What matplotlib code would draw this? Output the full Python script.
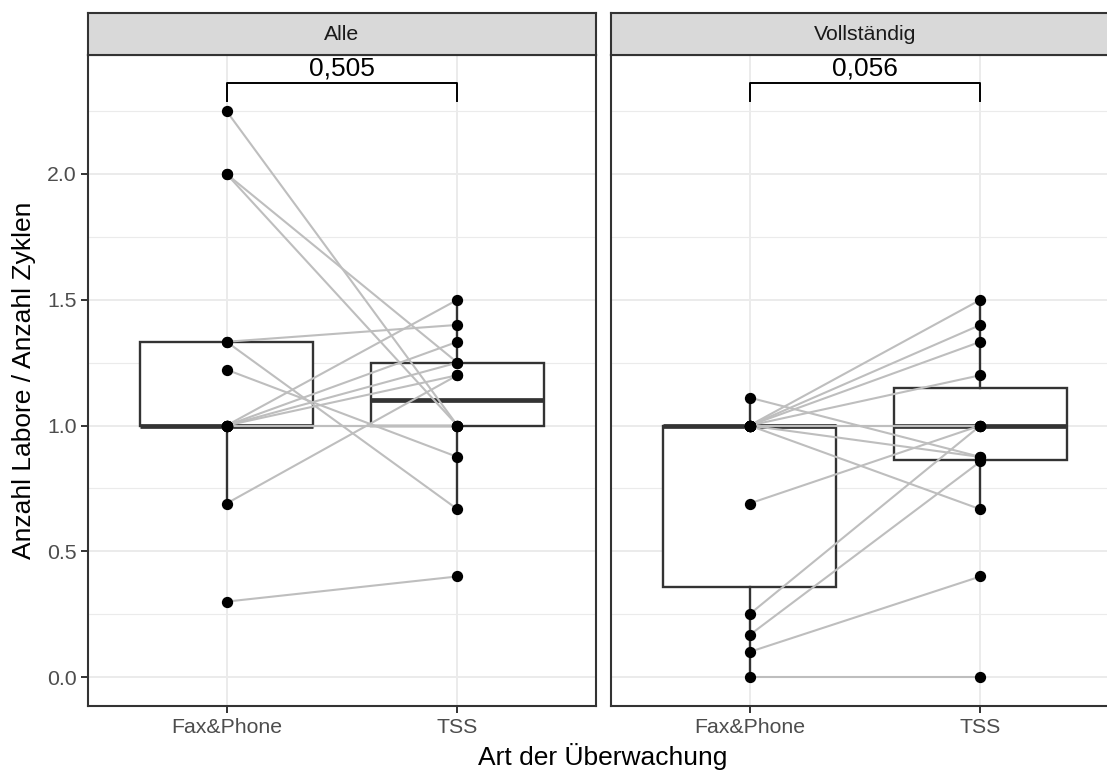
import numpy as np
import matplotlib.pyplot as plt
from matplotlib.ticker import MultipleLocator

plt.rcParams['font.family'] = ['Liberation Sans', 'DejaVu Sans']

# Gruppen und Facetten
groups = ["Fax&Phone", "TSS"]
panels = ["Alle", "Vollständig"]
p_labels = ["0,505", "0,056"]

# Gepaarte Werte (ein Eintrag pro Labor)
alle_fax = [2.25, 2.0, 2.0, 1.333, 1.333, 1.222, 1.0, 1.0, 1.0, 1.0, 1.0, 1.0, 0.69, 0.3]
alle_tss = [1.0, 1.25, 1.0, 1.4, 0.667, 0.875, 1.5, 1.333, 1.25, 1.2, 1.0, 1.0, 1.2, 0.4]
voll_fax = [1.111, 1.0, 1.0, 1.0, 1.0, 1.0, 1.0, 1.0, 1.0, 0.69, 0.25, 0.167, 0.1, 0.0]
voll_tss = [0.875, 1.5, 1.4, 1.333, 1.2, 1.0, 1.0, 0.875, 0.667, 1.0, 1.0, 0.857, 0.4, 0.0]

data = [(alle_fax, alle_tss), (voll_fax, voll_tss)]

W, H = 1107, 770
fig = plt.figure(figsize=(W / 100, H / 100), dpi=100)

def frac(x0, y0, x1, y1):
    return [x0 / W, 1 - y1 / H, (x1 - x0) / W, (y1 - y0) / H]

panel_x = [(88, 596), (611, 1119)]
top, bottom, strip_top = 55, 706, 13
dark = "#333333"

for i, (px, name, (fax, tss), plab) in enumerate(zip(panel_x, panels, data, p_labels)):
    ax = fig.add_axes(frac(px[0], top, px[1], bottom))

    # Boxplots
    ax.boxplot([fax, tss], positions=[1, 2], widths=0.75, whis=1.5,
               showfliers=False, patch_artist=True, showcaps=False,
               boxprops=dict(facecolor="white", edgecolor=dark, lw=1.7),
               whiskerprops=dict(color=dark, lw=1.7),
               medianprops=dict(color=dark, lw=3.4, solid_capstyle="butt"),
               zorder=2)

    # Verbindungslinien je Labor
    for a, b in zip(fax, tss):
        ax.plot([1, 2], [a, b], color="#BEBEBE", lw=1.5, zorder=3)
    ax.scatter(np.ones(len(fax)), fax, s=66, color="black", zorder=4, linewidths=0)
    ax.scatter(np.full(len(tss), 2), tss, s=66, color="black", zorder=4, linewidths=0)

    # Signifikanz-Klammer
    ax.plot([1, 1, 2, 2], [2.29, 2.36, 2.36, 2.29], color="black", lw=1.4, zorder=5)
    ax.text(1.5, 2.39, plab, ha="center", va="baseline", fontsize=19, color="black")

    ax.set_xlim(0.4, 2.6)
    ax.set_ylim(-0.115, 2.473)
    ax.yaxis.set_major_locator(MultipleLocator(0.5))
    ax.yaxis.set_minor_locator(MultipleLocator(0.25))
    ax.set_xticks([1, 2])
    ax.set_xticklabels(groups)
    ax.grid(True, which="major", color="#EBEBEB", lw=1.4, zorder=0)
    ax.grid(True, which="minor", axis="y", color="#EBEBEB", lw=0.8, zorder=0)
    ax.set_axisbelow(True)
    for s in ax.spines.values():
        s.set_color(dark)
        s.set_linewidth(1.5)
    ax.tick_params(axis="both", which="major", length=4.8, width=1.4, color=dark,
                   labelcolor="#4D4D4D", labelsize=15.3, pad=3.5)
    ax.tick_params(axis="y", which="minor", length=0)
    if i > 0:
        ax.tick_params(axis="y", which="major", length=0, labelleft=False)

    # Facettenstreifen
    sax = fig.add_axes(frac(px[0], strip_top, px[1], top))
    sax.set_facecolor("#D9D9D9")
    sax.set_xticks([])
    sax.set_yticks([])
    for s in sax.spines.values():
        s.set_color(dark)
        s.set_linewidth(1.5)
    sax.text(0.5, 0.5, name, ha="center", va="center", fontsize=15.3,
             color="#1A1A1A", transform=sax.transAxes)

fig.text(603 / W, 1 - 765 / H, "Art der Überwachung", ha="center", va="baseline",
         fontsize=19)
fig.text(24 / W, 1 - 380 / H, "Anzahl Labore / Anzahl Zyklen", ha="center",
         va="center", rotation=90, fontsize=19)

fig.savefig("out.png", dpi=100)
